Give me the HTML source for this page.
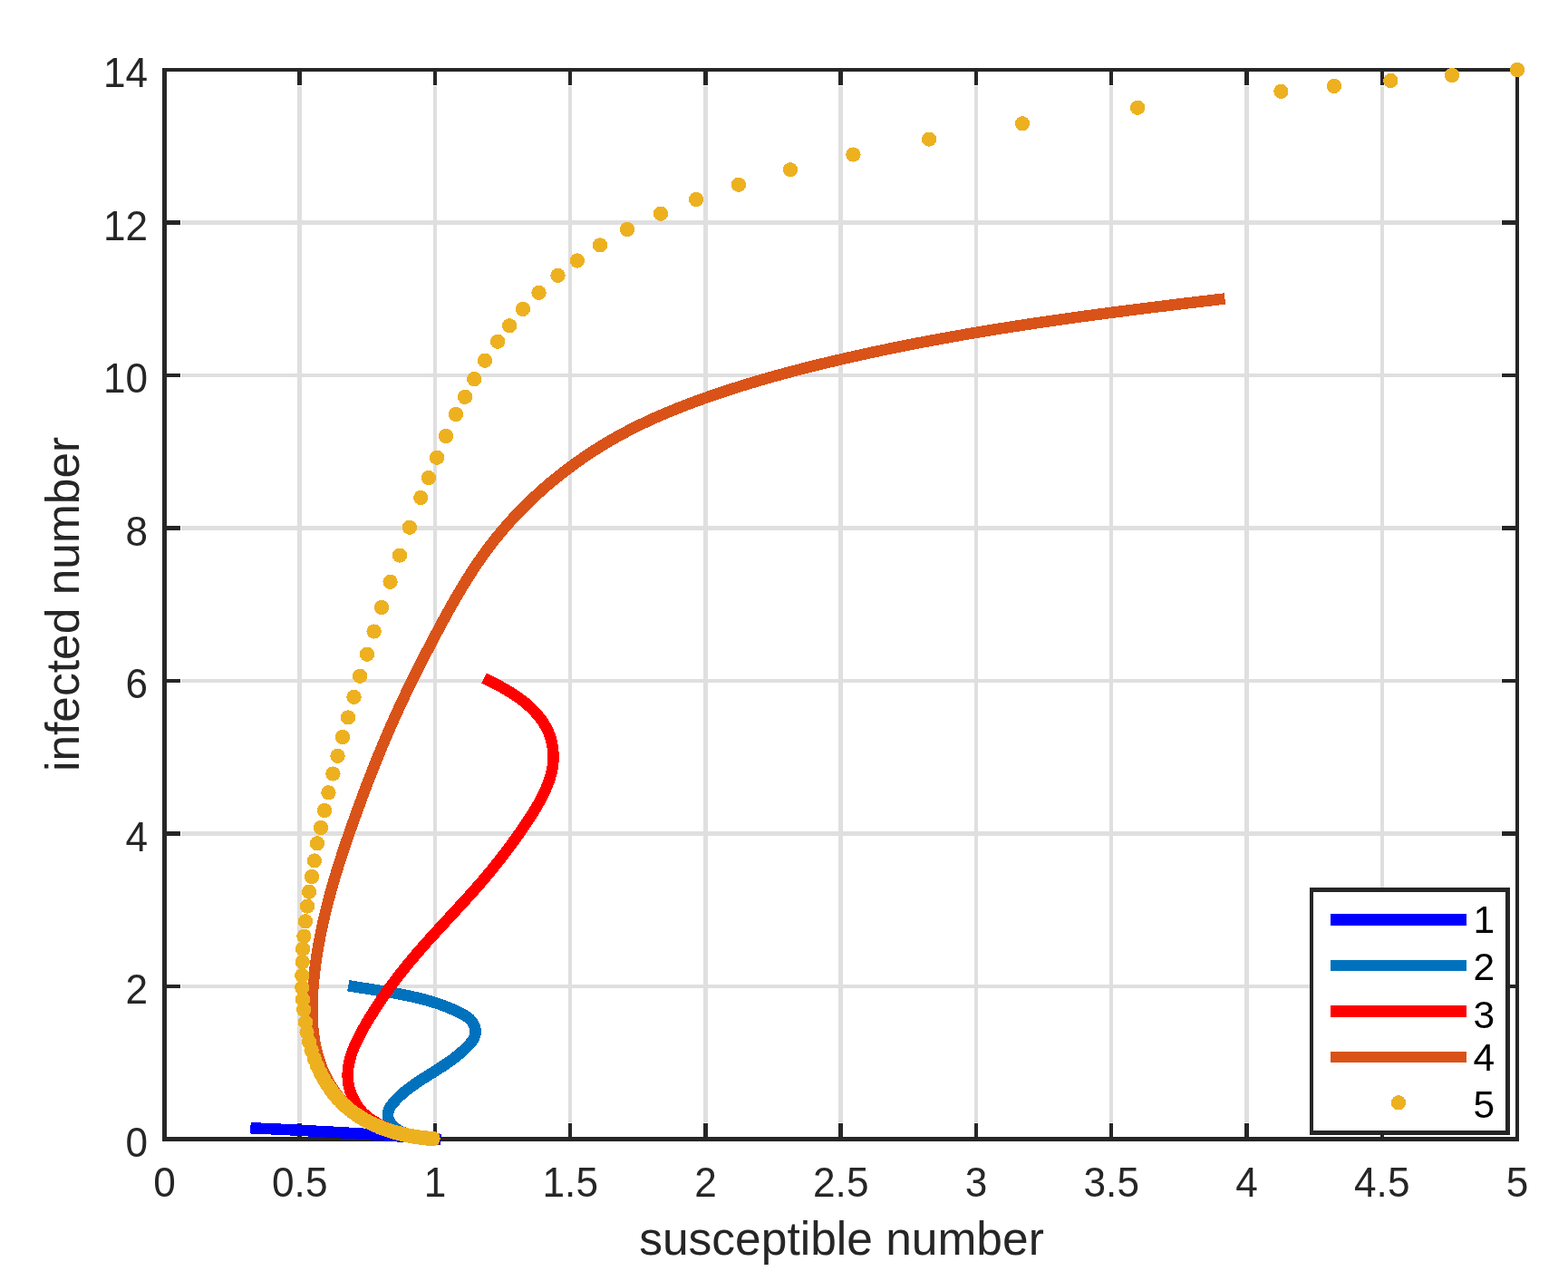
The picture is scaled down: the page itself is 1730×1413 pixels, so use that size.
<!DOCTYPE html>
<html lang="en"><head><meta charset="utf-8"><title>susceptible number vs infected number</title>
<style>html,body{margin:0;padding:0;background:#fff;}body{width:1730px;height:1413px;overflow:hidden;}svg{display:block;}text{font-family:'Liberation Sans', sans-serif;}</style>
</head><body>
<svg width="1730" height="1413" viewBox="0 0 1730 1413">
<rect x="0" y="0" width="1730" height="1413" fill="#ffffff"/>
<g shape-rendering="crispEdges" fill="#dfdfdf">
<rect x="328" y="95" width="5" height="1143"/>
<rect x="478" y="95" width="4" height="1143"/>
<rect x="627" y="95" width="4" height="1143"/>
<rect x="776" y="95" width="5" height="1143"/>
<rect x="925" y="95" width="5" height="1143"/>
<rect x="1075" y="95" width="4" height="1143"/>
<rect x="1224" y="95" width="4" height="1143"/>
<rect x="1373" y="95" width="5" height="1143"/>
<rect x="1523" y="95" width="4" height="1143"/>
<rect x="200" y="1086" width="1456" height="4"/>
<rect x="200" y="917" width="1456" height="5"/>
<rect x="200" y="749" width="1456" height="4"/>
<rect x="200" y="580" width="1456" height="5"/>
<rect x="200" y="412" width="1456" height="4"/>
<rect x="200" y="243" width="1456" height="5"/>
</g>
<g shape-rendering="crispEdges" fill="#262626">
<rect x="179" y="75" width="1497" height="4"/>
<rect x="179" y="1254" width="1497" height="5"/>
<rect x="179" y="75" width="5" height="1184"/>
<rect x="1672" y="75" width="4" height="1184"/>
<rect x="328" y="79" width="5" height="15"/>
<rect x="328" y="1239" width="5" height="15"/>
<rect x="478" y="79" width="4" height="15"/>
<rect x="478" y="1239" width="4" height="15"/>
<rect x="627" y="79" width="4" height="15"/>
<rect x="627" y="1239" width="4" height="15"/>
<rect x="776" y="79" width="5" height="15"/>
<rect x="776" y="1239" width="5" height="15"/>
<rect x="925" y="79" width="5" height="15"/>
<rect x="925" y="1239" width="5" height="15"/>
<rect x="1075" y="79" width="4" height="15"/>
<rect x="1075" y="1239" width="4" height="15"/>
<rect x="1224" y="79" width="4" height="15"/>
<rect x="1224" y="1239" width="4" height="15"/>
<rect x="1373" y="79" width="5" height="15"/>
<rect x="1373" y="1239" width="5" height="15"/>
<rect x="1523" y="79" width="4" height="15"/>
<rect x="1523" y="1239" width="4" height="15"/>
<rect x="184" y="1086" width="15" height="4"/>
<rect x="1657" y="1086" width="15" height="4"/>
<rect x="184" y="917" width="15" height="5"/>
<rect x="1657" y="917" width="15" height="5"/>
<rect x="184" y="749" width="15" height="4"/>
<rect x="1657" y="749" width="15" height="4"/>
<rect x="184" y="580" width="15" height="5"/>
<rect x="1657" y="580" width="15" height="5"/>
<rect x="184" y="412" width="15" height="4"/>
<rect x="1657" y="412" width="15" height="4"/>
<rect x="184" y="243" width="15" height="5"/>
<rect x="1657" y="243" width="15" height="5"/>
</g>
<g fill="none" stroke-width="12.5" stroke-linecap="square" stroke-linejoin="round" shape-rendering="crispEdges">
<path stroke="#0000ff" d="M282.6 1244.5L285.69 1244.64L288.77 1244.78L291.86 1244.92L294.95 1245.06L298.03 1245.21L301.12 1245.35L304.21 1245.5L307.3 1245.64L310.38 1245.79L313.47 1245.94L316.56 1246.09L319.64 1246.24L322.73 1246.39L325.81 1246.55L328.9 1246.7L331.99 1246.86L335.07 1247.01L338.16 1247.17L341.25 1247.33L344.33 1247.5L347.42 1247.66L350.5 1247.82L353.59 1247.99L356.68 1248.16L359.76 1248.33L362.85 1248.5L365.93 1248.67L369.02 1248.84L372.1 1249.02L375.19 1249.2L378.27 1249.38L381.36 1249.56L384.44 1249.74L387.53 1249.93L390.61 1250.11L393.7 1250.3L396.78 1250.49L399.87 1250.68L402.95 1250.88L406.03 1251.08L409.12 1251.27L412.2 1251.48L415.28 1251.68L418.37 1251.88L421.45 1252.09L424.53 1252.3L427.62 1252.51L430.7 1252.73L433.78 1252.95L436.87 1253.16L439.95 1253.39L443.03 1253.61L446.11 1253.84L449.19 1254.07L452.27 1254.3L455.36 1254.53L458.44 1254.77L461.52 1255.01L464.6 1255.25L467.68 1255.49L470.76 1255.74L473.84 1255.99L476.92 1256.24L480 1256.5"/>
<path stroke="#0072bd" d="M390.4 1088.2L393.39 1088.7L396.38 1089.19L399.37 1089.67L402.37 1090.15L405.37 1090.62L408.37 1091.09L411.37 1091.56L414.37 1092.03L417.37 1092.5L420.37 1092.98L423.36 1093.46L426.36 1093.95L429.36 1094.45L432.35 1094.96L435.34 1095.48L438.32 1096.02L441.31 1096.57L444.28 1097.14L447.26 1097.73L450.23 1098.33L453.19 1098.97L456.15 1099.62L459.1 1100.3L462.04 1101.01L464.98 1101.74L467.9 1102.51L470.82 1103.31L473.73 1104.14L476.64 1105.01L479.53 1105.91L482.41 1106.86L485.28 1107.84L488.14 1108.86L490.99 1109.93L493.83 1111.05L496.65 1112.21L499.47 1113.42L502.27 1114.68L505.05 1115.99L507.82 1117.36L510.57 1118.78L513.25 1120.32L515.8 1122.02L518.16 1123.97L520.25 1126.21L522.01 1128.76L523.39 1131.53L524.31 1134.4L524.71 1137.27L524.55 1140.07L523.87 1142.75L522.74 1145.34L521.25 1147.83L519.46 1150.23L517.46 1152.55L515.32 1154.79L513.1 1156.96L510.85 1159.06L508.56 1161.1L506.23 1163.08L503.86 1165L501.46 1166.87L499.03 1168.7L496.57 1170.49L494.09 1172.23L491.59 1173.95L489.06 1175.64L486.52 1177.31L483.97 1178.95L481.4 1180.59L478.83 1182.21L476.24 1183.83L473.66 1185.45L471.07 1187.07L468.49 1188.7L465.92 1190.35L463.37 1192.01L460.83 1193.7L458.31 1195.42L455.81 1197.17L453.34 1198.95L450.91 1200.78L448.51 1202.66L446.15 1204.59L443.84 1206.58L441.57 1208.63L439.35 1210.75L437.19 1212.94L435.09 1215.2L433.1 1217.54L431.31 1219.98L429.8 1222.5L428.68 1225.11L428.02 1227.83L427.92 1230.65L428.39 1233.52L429.38 1236.31L430.82 1238.91L432.65 1241.23L434.81 1243.28L437.23 1245.1L439.86 1246.7L442.63 1248.12L445.49 1249.37L448.43 1250.47L451.43 1251.44L454.48 1252.28L457.55 1253.02L460.63 1253.66L463.7 1254.21L466.75 1254.7L469.77 1255.12L472.72 1255.51L475.6 1255.86L478.4 1256.2"/>
<path stroke="#ff0000" d="M539.6 750.9L542.27 752.2L544.95 753.53L547.63 754.9L550.3 756.29L552.97 757.73L555.62 759.2L558.26 760.7L560.88 762.25L563.48 763.84L566.05 765.48L568.59 767.16L571.1 768.89L573.58 770.66L576.01 772.49L578.4 774.37L580.74 776.3L583.03 778.29L585.27 780.34L587.44 782.45L589.56 784.62L591.61 786.85L593.59 789.14L595.48 791.49L597.3 793.91L599.02 796.39L600.63 798.93L602.15 801.53L603.54 804.19L604.82 806.91L605.97 809.69L606.99 812.53L607.87 815.42L608.63 818.35L609.25 821.32L609.74 824.32L610.11 827.34L610.35 830.38L610.47 833.42L610.46 836.47L610.33 839.51L610.07 842.53L609.7 845.53L609.21 848.51L608.6 851.45L607.88 854.36L607.06 857.24L606.15 860.08L605.15 862.91L604.07 865.7L602.92 868.48L601.72 871.24L600.46 873.98L599.15 876.7L597.8 879.4L596.41 882.09L594.97 884.77L593.49 887.42L591.98 890.06L590.43 892.69L588.85 895.3L587.24 897.9L585.61 900.48L583.95 903.05L582.27 905.6L580.57 908.14L578.86 910.67L577.13 913.18L575.4 915.68L573.65 918.17L571.9 920.65L570.15 923.12L568.39 925.57L566.62 928.01L564.85 930.45L563.07 932.87L561.28 935.28L559.49 937.68L557.69 940.07L555.88 942.45L554.06 944.83L552.23 947.19L550.39 949.55L548.53 951.9L546.67 954.24L544.79 956.57L542.9 958.89L541 961.21L539.09 963.52L537.16 965.83L535.21 968.13L533.26 970.42L531.29 972.71L529.31 974.99L527.32 977.27L525.33 979.55L523.32 981.81L521.3 984.08L519.28 986.34L517.25 988.6L515.21 990.86L513.17 993.11L511.12 995.36L509.06 997.61L507.01 999.85L504.94 1002.1L502.88 1004.34L500.81 1006.58L498.74 1008.82L496.68 1011.06L494.61 1013.31L492.54 1015.55L490.47 1017.79L488.4 1020.03L486.34 1022.27L484.28 1024.52L482.22 1026.77L480.17 1029.02L478.12 1031.27L476.07 1033.52L474.04 1035.78L472 1038.04L469.98 1040.3L467.96 1042.57L465.96 1044.84L463.96 1047.12L461.97 1049.4L459.99 1051.68L458.03 1053.97L456.07 1056.27L454.13 1058.57L452.2 1060.88L450.29 1063.2L448.38 1065.52L446.5 1067.85L444.62 1070.19L442.76 1072.53L440.91 1074.89L439.08 1077.25L437.26 1079.62L435.45 1082.01L433.66 1084.4L431.88 1086.81L430.11 1089.22L428.36 1091.65L426.62 1094.09L424.89 1096.54L423.17 1099.01L421.47 1101.49L419.78 1103.98L418.11 1106.49L416.45 1109.01L414.8 1111.55L413.16 1114.1L411.54 1116.67L409.92 1119.26L408.32 1121.87L406.74 1124.49L405.16 1127.13L403.6 1129.78L402.05 1132.46L400.53 1135.16L399.02 1137.87L397.55 1140.6L396.11 1143.35L394.73 1146.11L393.39 1148.89L392.11 1151.68L390.9 1154.49L389.75 1157.31L388.69 1160.15L387.71 1163L386.82 1165.86L386.03 1168.73L385.34 1171.61L384.76 1174.5L384.3 1177.4L383.97 1180.31L383.76 1183.23L383.7 1186.16L383.77 1189.1L384 1192.04L384.39 1194.99L384.93 1197.94L385.65 1200.9L386.53 1203.84L387.56 1206.76L388.74 1209.64L390.06 1212.47L391.52 1215.23L393.11 1217.91L394.83 1220.49L396.66 1222.96L398.6 1225.31L400.64 1227.53L402.79 1229.59L405.02 1231.51L407.34 1233.31L409.74 1235L412.21 1236.59L414.74 1238.1L417.34 1239.54L419.99 1240.92L422.68 1242.24L425.43 1243.51L428.22 1244.71L431.04 1245.86L433.9 1246.95L436.79 1247.98L439.71 1248.95L442.65 1249.86L445.61 1250.72L448.59 1251.51L451.57 1252.25L454.57 1252.92L457.57 1253.54L460.58 1254.1L463.58 1254.6L466.57 1255.04L469.55 1255.42L472.52 1255.74L475.47 1256L478.4 1256.2"/>
<path stroke="#d95319" d="M1345.3 330.2L1342.3 330.55L1339.3 330.91L1336.3 331.26L1333.3 331.61L1330.3 331.97L1327.3 332.32L1324.31 332.68L1321.31 333.04L1318.31 333.39L1315.32 333.75L1312.32 334.11L1309.33 334.47L1306.33 334.83L1303.34 335.19L1300.35 335.55L1297.35 335.91L1294.36 336.27L1291.37 336.63L1288.38 337L1285.39 337.36L1282.4 337.73L1279.41 338.09L1276.42 338.46L1273.43 338.83L1270.45 339.2L1267.46 339.57L1264.47 339.94L1261.49 340.32L1258.5 340.69L1255.52 341.07L1252.53 341.44L1249.55 341.82L1246.56 342.2L1243.58 342.58L1240.6 342.96L1237.62 343.35L1234.64 343.73L1231.65 344.12L1228.67 344.5L1225.69 344.89L1222.71 345.28L1219.74 345.67L1216.76 346.07L1213.78 346.46L1210.8 346.86L1207.82 347.26L1204.85 347.66L1201.87 348.06L1198.9 348.46L1195.92 348.87L1192.95 349.27L1189.97 349.68L1187 350.09L1184.02 350.5L1181.05 350.92L1178.08 351.33L1175.11 351.75L1172.14 352.17L1169.16 352.59L1166.19 353.02L1163.22 353.44L1160.25 353.87L1157.28 354.3L1154.32 354.73L1151.35 355.17L1148.38 355.6L1145.41 356.04L1142.44 356.48L1139.48 356.92L1136.51 357.37L1133.54 357.82L1130.58 358.27L1127.61 358.72L1124.65 359.18L1121.68 359.63L1118.72 360.09L1115.75 360.56L1112.79 361.02L1109.83 361.49L1106.87 361.96L1103.9 362.43L1100.94 362.91L1097.98 363.38L1095.02 363.86L1092.06 364.35L1089.1 364.83L1086.14 365.32L1083.18 365.81L1080.22 366.31L1077.26 366.81L1074.3 367.31L1071.34 367.81L1068.39 368.32L1065.43 368.83L1062.47 369.34L1059.51 369.85L1056.56 370.37L1053.6 370.89L1050.65 371.42L1047.69 371.94L1044.73 372.48L1041.78 373.01L1038.83 373.55L1035.87 374.09L1032.92 374.63L1029.96 375.18L1027.01 375.73L1024.06 376.28L1021.1 376.84L1018.15 377.4L1015.2 377.97L1012.25 378.53L1009.3 379.1L1006.35 379.68L1003.39 380.26L1000.44 380.84L997.49 381.42L994.54 382.01L991.59 382.61L988.64 383.2L985.69 383.8L982.75 384.41L979.8 385.01L976.85 385.63L973.9 386.24L970.95 386.86L968 387.48L965.06 388.11L962.11 388.74L959.16 389.38L956.22 390.02L953.27 390.66L950.32 391.31L947.38 391.96L944.43 392.62L941.49 393.28L938.54 393.94L935.6 394.61L932.65 395.28L929.71 395.96L926.76 396.64L923.82 397.32L920.87 398.01L917.93 398.71L914.99 399.41L912.05 400.11L909.1 400.82L906.16 401.53L903.22 402.25L900.28 402.97L897.35 403.7L894.41 404.43L891.47 405.17L888.54 405.91L885.6 406.66L882.67 407.42L879.74 408.18L876.81 408.94L873.88 409.71L870.96 410.49L868.03 411.27L865.11 412.06L862.19 412.85L859.27 413.65L856.36 414.45L853.44 415.27L850.53 416.08L847.62 416.91L844.72 417.74L841.81 418.57L838.91 419.42L836.01 420.27L833.11 421.12L830.22 421.99L827.33 422.86L824.44 423.73L821.56 424.62L818.68 425.51L815.8 426.4L812.92 427.31L810.05 428.22L807.18 429.14L804.32 430.06L801.46 431L798.6 431.94L795.75 432.89L792.9 433.84L790.06 434.81L787.22 435.78L784.38 436.76L781.55 437.75L778.72 438.74L775.89 439.75L773.07 440.76L770.26 441.78L767.45 442.81L764.64 443.85L761.84 444.89L759.05 445.95L756.26 447.02L753.47 448.1L750.69 449.18L747.91 450.28L745.14 451.39L742.38 452.51L739.62 453.65L736.86 454.79L734.12 455.95L731.37 457.11L728.64 458.3L725.91 459.49L723.18 460.7L720.46 461.92L717.75 463.15L715.04 464.4L712.34 465.66L709.65 466.94L706.96 468.23L704.28 469.54L701.6 470.86L698.94 472.2L696.27 473.55L693.62 474.92L690.97 476.3L688.33 477.71L685.7 479.13L683.07 480.56L680.45 482.02L677.84 483.49L675.24 484.98L672.64 486.48L670.05 488.01L667.47 489.55L664.9 491.11L662.33 492.69L659.78 494.28L657.23 495.89L654.7 497.52L652.17 499.16L649.65 500.82L647.14 502.5L644.64 504.19L642.15 505.9L639.67 507.63L637.2 509.37L634.74 511.13L632.29 512.9L629.86 514.69L627.43 516.5L625.02 518.32L622.61 520.16L620.22 522.02L617.84 523.89L615.47 525.77L613.12 527.67L610.77 529.59L608.44 531.52L606.12 533.46L603.82 535.43L601.52 537.4L599.24 539.39L596.98 541.4L594.73 543.42L592.49 545.45L590.26 547.5L588.05 549.57L585.86 551.65L583.68 553.74L581.51 555.85L579.36 557.97L577.22 560.1L575.1 562.25L572.99 564.41L570.9 566.59L568.83 568.78L566.77 570.98L564.73 573.2L562.7 575.43L560.7 577.67L558.7 579.92L556.73 582.19L554.77 584.48L552.83 586.77L550.91 589.08L549 591.4L547.11 593.73L545.24 596.08L543.39 598.44L541.56 600.81L539.75 603.19L537.95 605.59L536.17 607.99L534.41 610.41L532.67 612.84L530.94 615.28L529.23 617.73L527.53 620.19L525.85 622.66L524.18 625.15L522.53 627.64L520.89 630.14L519.27 632.65L517.66 635.17L516.06 637.7L514.47 640.23L512.9 642.78L511.34 645.33L509.79 647.89L508.25 650.46L506.72 653.04L505.2 655.62L503.69 658.21L502.19 660.8L500.69 663.41L499.21 666.02L497.73 668.63L496.26 671.25L494.8 673.88L493.35 676.51L491.9 679.14L490.46 681.78L489.02 684.43L487.59 687.07L486.16 689.73L484.74 692.38L483.32 695.04L481.9 697.71L480.49 700.37L479.08 703.04L477.67 705.71L476.27 708.38L474.87 711.06L473.47 713.74L472.07 716.42L470.68 719.1L469.29 721.79L467.91 724.48L466.53 727.17L465.15 729.86L463.78 732.56L462.41 735.25L461.05 737.96L459.69 740.66L458.33 743.36L456.98 746.07L455.64 748.78L454.3 751.49L452.97 754.21L451.64 756.93L450.32 759.64L449 762.37L447.69 765.09L446.39 767.82L445.1 770.54L443.81 773.28L442.52 776.01L441.25 778.74L439.98 781.48L438.72 784.22L437.46 786.96L436.22 789.71L434.98 792.45L433.75 795.2L432.53 797.95L431.31 800.7L430.1 803.46L428.9 806.22L427.71 808.98L426.52 811.74L425.34 814.5L424.17 817.27L423 820.03L421.84 822.8L420.69 825.57L419.54 828.35L418.4 831.12L417.26 833.9L416.14 836.68L415.01 839.46L413.9 842.24L412.79 845.03L411.68 847.82L410.58 850.61L409.49 853.4L408.4 856.19L407.32 858.99L406.24 861.78L405.17 864.58L404.11 867.38L403.04 870.18L401.99 872.99L400.93 875.79L399.89 878.6L398.84 881.41L397.8 884.22L396.77 887.04L395.74 889.85L394.71 892.67L393.69 895.49L392.67 898.31L391.66 901.13L390.65 903.95L389.64 906.78L388.64 909.61L387.64 912.44L386.65 915.27L385.66 918.1L384.68 920.94L383.7 923.77L382.73 926.61L381.76 929.45L380.8 932.3L379.85 935.14L378.9 937.99L377.96 940.84L377.03 943.69L376.1 946.55L375.18 949.41L374.27 952.27L373.37 955.13L372.48 958L371.59 960.86L370.72 963.74L369.85 966.61L369 969.49L368.15 972.37L367.31 975.25L366.49 978.13L365.67 981.02L364.86 983.92L364.07 986.81L363.29 989.71L362.52 992.61L361.76 995.52L361.01 998.43L360.28 1001.34L359.55 1004.25L358.84 1007.17L358.15 1010.09L357.47 1013.02L356.8 1015.95L356.14 1018.89L355.5 1021.82L354.88 1024.76L354.26 1027.71L353.67 1030.66L353.09 1033.61L352.52 1036.57L351.97 1039.53L351.44 1042.5L350.92 1045.47L350.42 1048.44L349.93 1051.42L349.47 1054.41L349.02 1057.39L348.58 1060.39L348.17 1063.38L347.77 1066.38L347.4 1069.39L347.04 1072.4L346.7 1075.42L346.37 1078.44L346.07 1081.46L345.79 1084.49L345.53 1087.53L345.29 1090.56L345.08 1093.6L344.89 1096.64L344.73 1099.69L344.6 1102.73L344.49 1105.77L344.42 1108.81L344.38 1111.85L344.38 1114.88L344.41 1117.92L344.48 1120.94L344.59 1123.96L344.74 1126.98L344.93 1129.99L345.16 1132.99L345.44 1135.98L345.76 1138.97L346.13 1141.94L346.55 1144.9L347.02 1147.86L347.54 1150.8L348.11 1153.72L348.74 1156.63L349.43 1159.53L350.17 1162.42L350.97 1165.28L351.84 1168.13L352.76 1170.96L353.74 1173.77L354.78 1176.56L355.89 1179.32L357.05 1182.06L358.28 1184.76L359.57 1187.44L360.92 1190.09L362.33 1192.71L363.81 1195.28L365.34 1197.83L366.94 1200.33L368.61 1202.8L370.34 1205.22L372.13 1207.6L373.98 1209.93L375.9 1212.21L377.88 1214.45L379.92 1216.64L382.02 1218.77L384.18 1220.85L386.39 1222.87L388.65 1224.84L390.97 1226.74L393.34 1228.59L395.76 1230.37L398.22 1232.08L400.73 1233.73L403.29 1235.31L405.89 1236.83L408.53 1238.26L411.21 1239.63L413.93 1240.94L416.68 1242.17L419.47 1243.34L422.28 1244.45L425.12 1245.5L427.99 1246.49L430.88 1247.42L433.8 1248.3L436.73 1249.12L439.67 1249.9L442.64 1250.62L445.61 1251.3L448.59 1251.93L451.58 1252.52L454.57 1253.07L457.57 1253.58L460.56 1254.05L463.55 1254.49L466.54 1254.89L469.52 1255.26L472.49 1255.6L475.45 1255.91L478.4 1256.2"/>
</g>
<g fill="#edb120" shape-rendering="crispEdges">
<circle cx="1674.1" cy="77" r="8.15"/>
<circle cx="1602" cy="82.9" r="8.15"/>
<circle cx="1534.3" cy="89" r="8.15"/>
<circle cx="1471.9" cy="94.9" r="8.15"/>
<circle cx="1413.4" cy="100.85" r="8.15"/>
<circle cx="1255.1" cy="118.8" r="8.15"/>
<circle cx="1128" cy="136.25" r="8.15"/>
<circle cx="1025.1" cy="153.6" r="8.15"/>
<circle cx="941.4" cy="170.5" r="8.15"/>
<circle cx="872" cy="187.2" r="8.15"/>
<circle cx="814.9" cy="203.8" r="8.15"/>
<circle cx="768.15" cy="220" r="8.15"/>
<circle cx="729" cy="235.7" r="8.15"/>
<circle cx="692" cy="253.1" r="8.15"/>
<circle cx="662" cy="270.4" r="8.15"/>
<circle cx="636.8" cy="287.5" r="8.15"/>
<circle cx="615.5" cy="303.9" r="8.15"/>
<circle cx="594.5" cy="322.9" r="8.15"/>
<circle cx="576.9" cy="340.9" r="8.15"/>
<circle cx="562.1" cy="359.2" r="8.15"/>
<circle cx="549.1" cy="376.8" r="8.15"/>
<circle cx="535" cy="397.8" r="8.15"/>
<circle cx="523.2" cy="418.1" r="8.15"/>
<circle cx="513.1" cy="437.8" r="8.15"/>
<circle cx="502.9" cy="457" r="8.15"/>
<circle cx="492" cy="481" r="8.15"/>
<circle cx="482.1" cy="504.8" r="8.15"/>
<circle cx="472.9" cy="527.1" r="8.15"/>
<circle cx="464.2" cy="549" r="8.15"/>
<circle cx="451.9" cy="581.8" r="8.15"/>
<circle cx="441" cy="612.6" r="8.15"/>
<circle cx="430.6" cy="641.8" r="8.15"/>
<circle cx="421" cy="669.9" r="8.15"/>
<circle cx="412.6" cy="696.5" r="8.15"/>
<circle cx="405" cy="721.7" r="8.15"/>
<circle cx="397.1" cy="745.8" r="8.15"/>
<circle cx="390.5" cy="768.8" r="8.15"/>
<circle cx="384" cy="791.4" r="8.15"/>
<circle cx="378" cy="813" r="8.15"/>
<circle cx="372.5" cy="833.8" r="8.15"/>
<circle cx="367.4" cy="853.5" r="8.15"/>
<circle cx="362.4" cy="874.3" r="8.15"/>
<circle cx="358" cy="893.9" r="8.15"/>
<circle cx="354" cy="913" r="8.15"/>
<circle cx="350" cy="930.3" r="8.15"/>
<circle cx="346.9" cy="949.4" r="8.15"/>
<circle cx="344" cy="967" r="8.15"/>
<circle cx="341" cy="983.8" r="8.15"/>
<circle cx="339" cy="999.6" r="8.15"/>
<circle cx="337" cy="1016.3" r="8.15"/>
<circle cx="335.4" cy="1032.7" r="8.15"/>
<circle cx="334.1" cy="1046.8" r="8.15"/>
<circle cx="333.8" cy="1061.1" r="8.15"/>
<circle cx="333.3" cy="1076" r="8.15"/>
<circle cx="333.3" cy="1089.4" r="8.15"/>
<circle cx="334" cy="1102.4" r="8.15"/>
<circle cx="335.2" cy="1113.7" r="8.15"/>
<circle cx="337" cy="1127.5" r="8.15"/>
<circle cx="338.53" cy="1138.6" r="8.15"/>
<circle cx="340.89" cy="1149" r="8.15"/>
<circle cx="343.6" cy="1158.5" r="8.15"/>
<circle cx="346.73" cy="1167.6" r="8.15"/>
<circle cx="350.16" cy="1176" r="8.15"/>
<circle cx="353.6" cy="1183.3" r="8.15"/>
<circle cx="357.25" cy="1190.1" r="8.15"/>
<circle cx="361.09" cy="1196.41" r="8.15"/>
<circle cx="365" cy="1202.12" r="8.15"/>
<circle cx="368.95" cy="1207.28" r="8.15"/>
<circle cx="372.94" cy="1211.96" r="8.15"/>
<circle cx="376.96" cy="1216.19" r="8.15"/>
<circle cx="380.99" cy="1220.02" r="8.15"/>
<circle cx="385.04" cy="1223.49" r="8.15"/>
<circle cx="389.06" cy="1226.62" r="8.15"/>
<circle cx="393.05" cy="1229.46" r="8.15"/>
<circle cx="396.98" cy="1232.03" r="8.15"/>
<circle cx="400.84" cy="1234.35" r="8.15"/>
<circle cx="404.62" cy="1236.46" r="8.15"/>
<circle cx="408.31" cy="1238.36" r="8.15"/>
<circle cx="411.88" cy="1240.08" r="8.15"/>
<circle cx="415.36" cy="1241.64" r="8.15"/>
<circle cx="418.73" cy="1243.06" r="8.15"/>
<circle cx="421.98" cy="1244.33" r="8.15"/>
<circle cx="425.12" cy="1245.49" r="8.15"/>
<circle cx="428.14" cy="1246.53" r="8.15"/>
<circle cx="431.04" cy="1247.48" r="8.15"/>
<circle cx="433.83" cy="1248.34" r="8.15"/>
<circle cx="436.51" cy="1249.11" r="8.15"/>
<circle cx="439.08" cy="1249.82" r="8.15"/>
<circle cx="441.53" cy="1250.45" r="8.15"/>
<circle cx="443.88" cy="1251.03" r="8.15"/>
<circle cx="446.15" cy="1251.55" r="8.15"/>
<circle cx="448.3" cy="1252.02" r="8.15"/>
<circle cx="450.34" cy="1252.44" r="8.15"/>
<circle cx="452.33" cy="1252.83" r="8.15"/>
<circle cx="454.2" cy="1253.18" r="8.15"/>
<circle cx="455.98" cy="1253.49" r="8.15"/>
<circle cx="457.71" cy="1253.78" r="8.15"/>
<circle cx="459.31" cy="1254.04" r="8.15"/>
<circle cx="460.89" cy="1254.27" r="8.15"/>
<circle cx="462.34" cy="1254.48" r="8.15"/>
<circle cx="463.78" cy="1254.67" r="8.15"/>
<circle cx="465.1" cy="1254.85" r="8.15"/>
<circle cx="466.39" cy="1255" r="8.15"/>
<circle cx="467.61" cy="1255.15" r="8.15"/>
<circle cx="468.74" cy="1255.28" r="8.15"/>
<circle cx="469.88" cy="1255.39" r="8.15"/>
<circle cx="470.91" cy="1255.5" r="8.15"/>
<circle cx="471.89" cy="1255.59" r="8.15"/>
<circle cx="472.87" cy="1255.68" r="8.15"/>
<circle cx="473.76" cy="1255.76" r="8.15"/>
<circle cx="474.57" cy="1255.83" r="8.15"/>
<circle cx="475.44" cy="1255.89" r="8.15"/>
<circle cx="476.23" cy="1255.95" r="8.15"/>
<circle cx="476.94" cy="1256" r="8.15"/>
<circle cx="477.59" cy="1256.05" r="8.15"/>
<circle cx="477.6" cy="1256.09" r="8.15"/>
<circle cx="477.6" cy="1256.05" r="8.15"/>
</g>
<g shape-rendering="crispEdges">
<rect x="1445" y="979" width="221" height="273" fill="#262626"/>
<rect x="1449" y="984" width="212" height="263" fill="#ffffff"/>
<rect x="1468" y="1008.15" width="150" height="12.5" fill="#0000ff"/>
<rect x="1468" y="1058.85" width="150" height="12.5" fill="#0072bd"/>
<rect x="1468" y="1109.25" width="150" height="12.5" fill="#ff0000"/>
<rect x="1468" y="1159.95" width="150" height="12.5" fill="#d95319"/>
<circle cx="1543" cy="1216.3" r="8.15" fill="#edb120"/>
</g>
<g font-size="42.5" fill="#000000">
<text x="1625.5" y="1029">1</text>
<text x="1625.5" y="1081.3">2</text>
<text x="1625.5" y="1133.5">3</text>
<text x="1625.5" y="1181.2">4</text>
<text x="1625.5" y="1232.5">5</text>
</g>
<g font-size="46" fill="#262626">
<text transform="translate(181.5,1320) scale(0.96,1)" text-anchor="middle">0</text>
<text transform="translate(330.75,1320) scale(0.96,1)" text-anchor="middle">0.5</text>
<text transform="translate(480,1320) scale(0.96,1)" text-anchor="middle">1</text>
<text transform="translate(629.25,1320) scale(0.96,1)" text-anchor="middle">1.5</text>
<text transform="translate(778.5,1320) scale(0.96,1)" text-anchor="middle">2</text>
<text transform="translate(927.75,1320) scale(0.96,1)" text-anchor="middle">2.5</text>
<text transform="translate(1077,1320) scale(0.96,1)" text-anchor="middle">3</text>
<text transform="translate(1226.25,1320) scale(0.96,1)" text-anchor="middle">3.5</text>
<text transform="translate(1375.5,1320) scale(0.96,1)" text-anchor="middle">4</text>
<text transform="translate(1524.75,1320) scale(0.96,1)" text-anchor="middle">4.5</text>
<text transform="translate(1674,1320) scale(0.96,1)" text-anchor="middle">5</text>
<text transform="translate(163,1275.5) scale(0.96,1)" text-anchor="end">0</text>
<text transform="translate(163,1107) scale(0.96,1)" text-anchor="end">2</text>
<text transform="translate(163,938.5) scale(0.96,1)" text-anchor="end">4</text>
<text transform="translate(163,770) scale(0.96,1)" text-anchor="end">6</text>
<text transform="translate(163,601.5) scale(0.96,1)" text-anchor="end">8</text>
<text transform="translate(163,433) scale(0.96,1)" text-anchor="end">10</text>
<text transform="translate(163,264.5) scale(0.96,1)" text-anchor="end">12</text>
<text transform="translate(163,96) scale(0.96,1)" text-anchor="end">14</text>
</g>
<g font-size="51.5" fill="#262626">
<text x="928.5" y="1383.8" text-anchor="middle">susceptible number</text>
<text transform="translate(87,666.4) rotate(-90)" text-anchor="middle">infected number</text>
</g>
</svg>
</body></html>
